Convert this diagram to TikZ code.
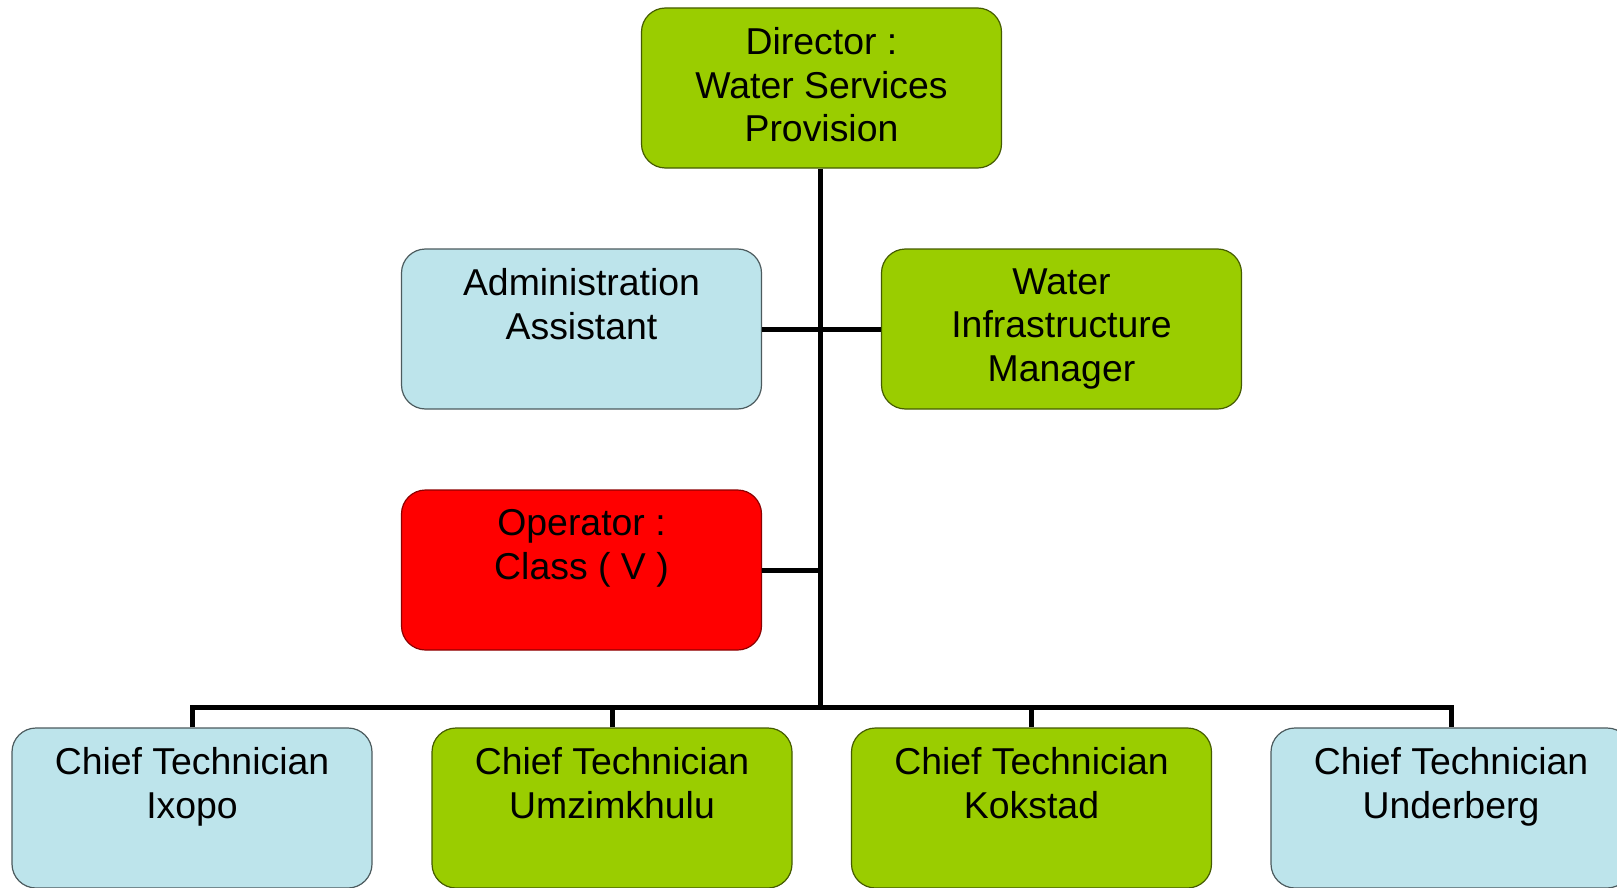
\documentclass[tikz,border=0pt]{standalone}
\usepackage{fontspec}
\setmainfont{Liberation Sans}
\definecolor{leaf}{RGB}{154,205,0}
\definecolor{sky}{RGB}{189,228,235}
\definecolor{alarm}{RGB}{255,0,0}
\tikzset{
  post/.style={rectangle, rounded corners=12pt, minimum width=180pt, minimum height=80pt,
               line width=0.6pt, inner sep=0pt},
  greenpost/.style={post, fill=leaf, draw=leaf!45!black},
  bluepost/.style={post, fill=sky, draw=sky!40!black},
  redpost/.style={post, fill=alarm, draw=alarm!55!black},
  caption/.style={anchor=north, align=center, inner sep=0pt,
                  font=\fontsize{18.7}{21.7}\selectfont},
  link/.style={line width=2.5pt, black}
}
\newcommand{\posttext}[2]{\node[caption] at ([yshift=-10pt]#1.north) {#2};}
\begin{document}
\begin{tikzpicture}[x=0.5pt, y=-0.5pt]
\useasboundingbox (0,0) rectangle (1617,888);

% boxes
\node[greenpost] (dir)   at (821.5,88)  {};
\node[bluepost]  (admin) at (581.5,329) {};
\node[greenpost] (infra) at (1061.5,329) {};
\node[redpost]   (oper)  at (581.5,570) {};
\node[bluepost]  (ixopo) at (192,808)   {};
\node[greenpost] (umzim) at (612,808)   {};
\node[greenpost] (kok)   at (1031.5,808) {};
\node[bluepost]  (under) at (1451,808)  {};

\posttext{dir}{Director :\\Water Services\\Provision}
\posttext{admin}{Administration\\Assistant}
\posttext{infra}{Water\\Infrastructure\\Manager}
\posttext{oper}{Operator :\\Class ( V )}
\posttext{ixopo}{Chief Technician\\Ixopo}
\posttext{umzim}{Chief Technician\\Umzimkhulu}
\posttext{kok}{Chief Technician\\Kokstad}
\posttext{under}{Chief Technician\\Underberg}

% connectors
\coordinate (bus) at ([xshift=-0.75pt]dir.south |- 0,707);
\draw[link] ([xshift=-0.75pt]dir.south) -- (bus);
\draw[link] (admin.east) -- (infra.west);
\draw[link] (oper.east) -- (oper.east -| bus);
\draw[link] (ixopo.north) -- (ixopo.north |- bus) -| (under.north);
\draw[link] (umzim.north) -- (umzim.north |- bus);
\draw[link] (kok.north) -- (kok.north |- bus);
\end{tikzpicture}
\end{document}
